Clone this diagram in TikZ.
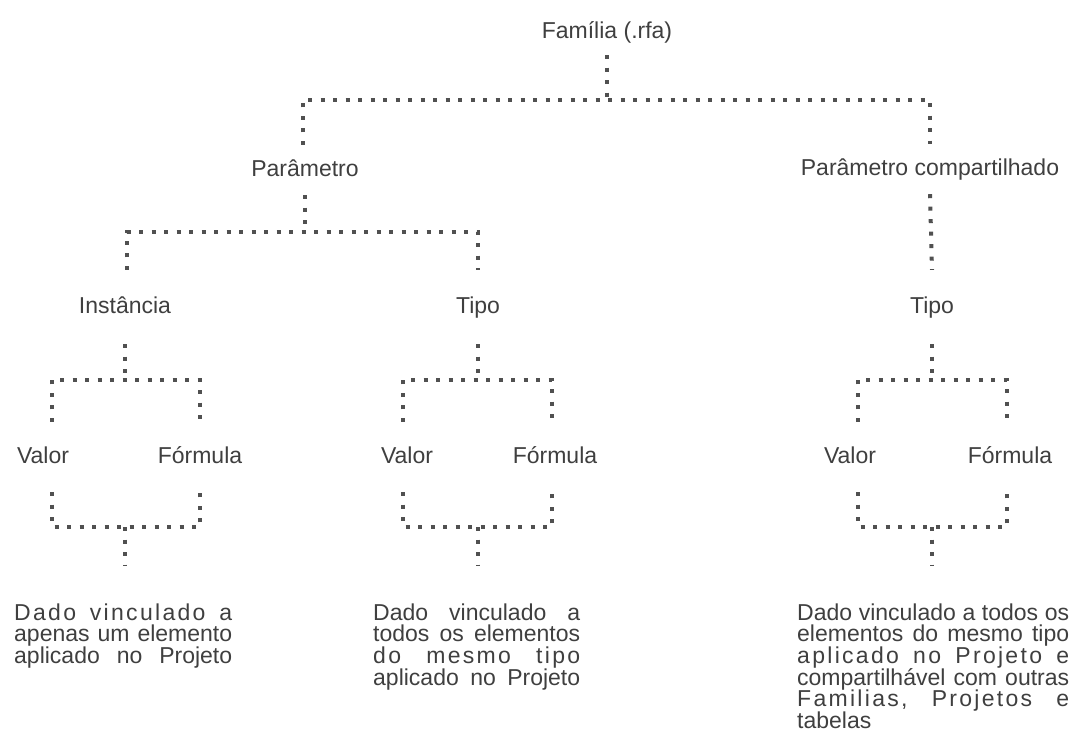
\documentclass[tikz,border=0pt]{standalone}
\usepackage{fontspec}
\setmainfont{Liberation Sans}
\newfontfamily\widefont[LetterSpace=10]{Liberation Sans}
\usetikzlibrary{calc}

\definecolor{inkgray}{HTML}{3F3F3F}
\definecolor{dotgray}{HTML}{505050}

\newcommand{\parafont}{\fontsize{23pt}{21.7pt}\selectfont\lineskiplimit=-8pt\relax}

\begin{document}
\begin{tikzpicture}[
  x=1pt, y=-1pt,
  lbl/.style={font=\fontsize{23pt}{26pt}\selectfont, text=inkgray, anchor=base,
    text height=17pt, text depth=5pt, inner xsep=2pt, inner ysep=#1},
  lbl/.default=24pt,
  para/.style={font=\parafont, text=inkgray, anchor=base west, align=left,
    inner xsep=0pt, inner ysep=38pt},
  dots/.style={draw=dotgray, line width=4pt, dash pattern=on 4pt off 8.5pt}
]
\useasboundingbox (0,0) rectangle (1073,747);

% --- upper levels ---
\node[lbl=12pt] (fam)   at (607,38)  {Família (.rfa)};
\node[lbl=14pt] (par)   at (305,176) {Parâmetro};
\node[lbl=14pt] (parc)  at (930,175) {Parâmetro compartilhado};
\node[lbl=26pt] (inst)  at (125,313) {Instância};
\node[lbl=26pt] (tipo)  at (478,313) {Tipo};
\node[lbl=26pt] (tipoc) at (932,313) {Tipo};

% --- family fork ---
\coordinate (f0l) at (303,100);
\coordinate (f0r) at (930,100);
\draw[dots] (fam.south) -- (fam.south |- f0l);
\draw[dots] (par.north -| f0l) -- (f0l) -- (f0r) -- (parc.north -| f0r);

% --- parameter fork ---
\coordinate (f1l) at (127,232);
\coordinate (f1r) at (478,232);
\draw[dots] (par.south) -- (par.south |- f1l);
\draw[dots] (inst.north -| f1l) -- (f1l) -- (f1r) -- (tipo.north -| f1r);

% shared parameter has only one child
\draw[dots] (parc.south) -- (tipoc.north);

% --- description texts (justified by hand) ---
\node[para, text width=218pt] (txta) at (14,620) {%
  {\widefont Dado\hfill vinculado\hfill a}\\
  apenas\hfill um\hfill elemento\\
  aplicado\hfill no\hfill Projeto};
\node[para, text width=207pt] (txtb) at (373,620) {%
  Dado\hfill vinculado\hfill a\\
  todos\hfill os\hfill elementos\\
  {\widefont do\hfill mesmo\hfill tipo}\\
  aplicado\hfill no\hfill Projeto};
\node[para, text width=272pt] (txtc) at (797,620) {%
  Dado\hfill vinculado\hfill a\hfill todos\hfill os\\
  elementos\hfill do\hfill mesmo\hfill tipo\\
  {\widefont aplicado\hfill no\hfill Projeto\hfill e}\\
  compartilhável\hfill com\hfill outras\\
  {\widefont Familias,\hfill Projetos\hfill e}\\
  tabelas};

% --- value / formula pairs ---
\foreach \up/\id/\vx/\fx/\lx/\rx in {inst/a/43/200/52/200, tipo/b/407/555/403/552, tipoc/c/850/1010/858/1007} {
  \node[lbl] (val\id) at (\vx,463) {Valor};
  \node[lbl] (frm\id) at (\fx,463) {Fórmula};
  \coordinate (j\id-tl) at (\lx,380);
  \coordinate (j\id-tr) at (\rx,380);
  \coordinate (j\id-bl) at (\lx,527);
  \coordinate (j\id-br) at (\rx,527);
  \draw[dots] (\up.south) -- (\up.south |- j\id-tl);
  \draw[dots] (val\id.north -| j\id-tl) -- (j\id-tl) -- (j\id-tr) -- (frm\id.north -| j\id-tr);
  \draw[dots] (val\id.south -| j\id-bl) -- (j\id-bl) -- (j\id-br) -- (frm\id.south -| j\id-br);
  \draw[dots] (\up |- j\id-bl) -- (txt\id.north -| \up);
}

\end{tikzpicture}
\end{document}
